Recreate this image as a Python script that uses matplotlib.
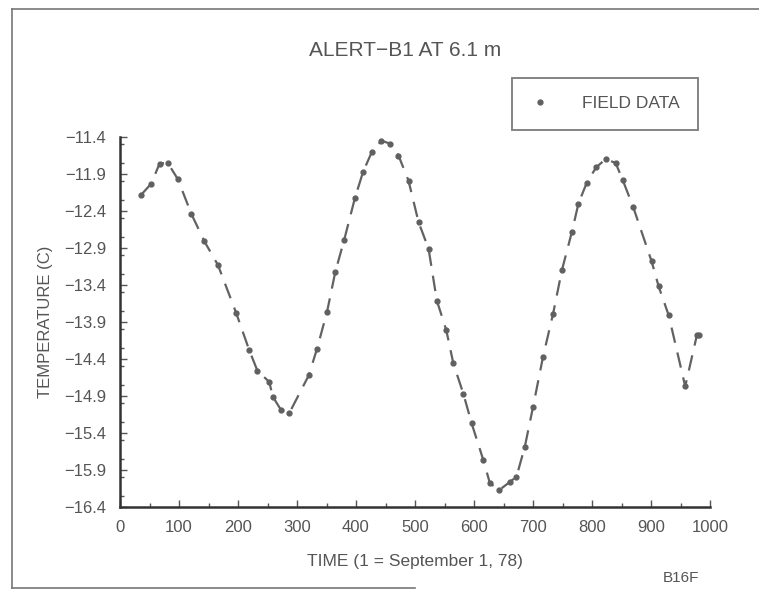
import matplotlib
matplotlib.use("Agg")
import matplotlib.pyplot as plt
from matplotlib.lines import Line2D
from matplotlib.ticker import FixedLocator, MultipleLocator

plt.rcParams['font.family'] = ['Liberation Sans Narrow', 'Liberation Sans', 'DejaVu Sans']

# field data, day number vs temperature
days = [36, 53, 67, 81, 98, 121, 143, 166, 197, 219, 233, 253, 259, 273, 287,
        320, 334, 351, 365, 380, 398, 412, 427, 443, 458, 472, 489, 506, 523,
        537, 553, 565, 582, 596, 616, 627, 643, 661, 672, 686, 700, 717, 734,
        749, 766, 777, 791, 807, 823, 840, 852, 870, 901, 913, 930, 958, 978, 982]
temps = [-12.18, -12.03, -11.76, -11.75, -11.97, -12.44, -12.81, -13.13, -13.78,
         -14.28, -14.56, -14.71, -14.91, -15.09, -15.13, -14.62, -14.26, -13.76,
         -13.22, -12.79, -12.23, -11.87, -11.60, -11.45, -11.49, -11.65, -11.99,
         -12.55, -12.91, -13.61, -14.01, -14.46, -14.87, -15.27, -15.77, -16.08,
         -16.17, -16.06, -15.99, -15.59, -15.05, -14.37, -13.79, -13.20, -12.68,
         -12.30, -12.02, -11.81, -11.70, -11.75, -11.98, -12.35, -13.08, -13.42,
         -13.81, -14.77, -14.07, -14.08]

x_ticks = [0, 100, 200, 300, 400, 500, 600, 700, 800, 900, 1000]
y_ticks = [-16.4, -15.9, -15.4, -14.9, -14.4, -13.9, -13.4, -12.9, -12.4, -11.9, -11.4]

ink = '#555555'
W, H = 759, 591

fig = plt.figure(figsize=(W / 100, H / 100), dpi=100)
ax = fig.add_axes([120 / W, 1 - 507 / H, 590 / W, 370 / H])

ax.plot(days, temps, color='#626262', lw=1.6, ls=(0, (7, 4.5)),
        marker='o', ms=3.5, mfc='#606060', mec='#606060', label='FIELD DATA')

ax.set_xlim(0, 1000)
ax.set_ylim(-16.4, -11.4)
ax.xaxis.set_major_locator(FixedLocator(x_ticks))
ax.xaxis.set_minor_locator(MultipleLocator(50))
ax.yaxis.set_major_locator(FixedLocator(y_ticks))
ax.yaxis.set_minor_locator(MultipleLocator(0.25))
ax.set_xticklabels([str(v) for v in x_ticks])
ax.set_yticklabels(['\u2212%.1f' % abs(v) for v in y_ticks])
ax.tick_params(which='both', direction='in', color=ink, labelcolor=ink,
               labelsize=12)
ax.tick_params(which='major', length=5, width=1)
ax.tick_params(which='minor', length=3, width=1)
ax.tick_params(axis='x', pad=9)
ax.tick_params(axis='y', pad=10)

for side in ['top', 'right']:
    ax.spines[side].set_visible(False)
for side in ['left', 'bottom']:
    ax.spines[side].set_color('#333333')
    ax.spines[side].set_linewidth(1.8)

ax.set_ylabel('TEMPERATURE (C)', color=ink, fontsize=12, labelpad=8)
ax.set_xlabel('TIME (1 = September 1, 78)', color=ink, fontsize=12.5, labelpad=14)

fig.text(405 / W, 1 - 50 / H, 'ALERT\u2212B1 AT 6.1 m', color=ink, fontsize=15,
         ha='center', va='center')
fig.text(681 / W, 1 - 578 / H, 'B16F', color=ink, fontsize=11,
         ha='center', va='center')

leg = ax.legend(loc='upper right', bbox_to_anchor=(698 / W, 1 - 78 / H),
                bbox_transform=fig.transFigure, frameon=True, fancybox=False,
                edgecolor='#666666', fontsize=12.5, handlelength=1.2,
                borderpad=1.05, handletextpad=1.8, borderaxespad=0)
leg.get_frame().set_linewidth(1.4)
leg.get_lines()[0].set_linestyle('none')
for t in leg.get_texts():
    t.set_color(ink)

# outer frame of the page
frame = dict(color='#777777', lw=1.2, transform=fig.transFigure)
fig.add_artist(Line2D([12 / W, 12 / W], [1 - 9 / H, 1 - 588 / H], **frame))
fig.add_artist(Line2D([12 / W, 1.0], [1 - 9 / H, 1 - 9 / H], **frame))
fig.add_artist(Line2D([12 / W, 415 / W], [1 - 588 / H, 1 - 588 / H], **frame))

fig.savefig('out.png', dpi=100)
